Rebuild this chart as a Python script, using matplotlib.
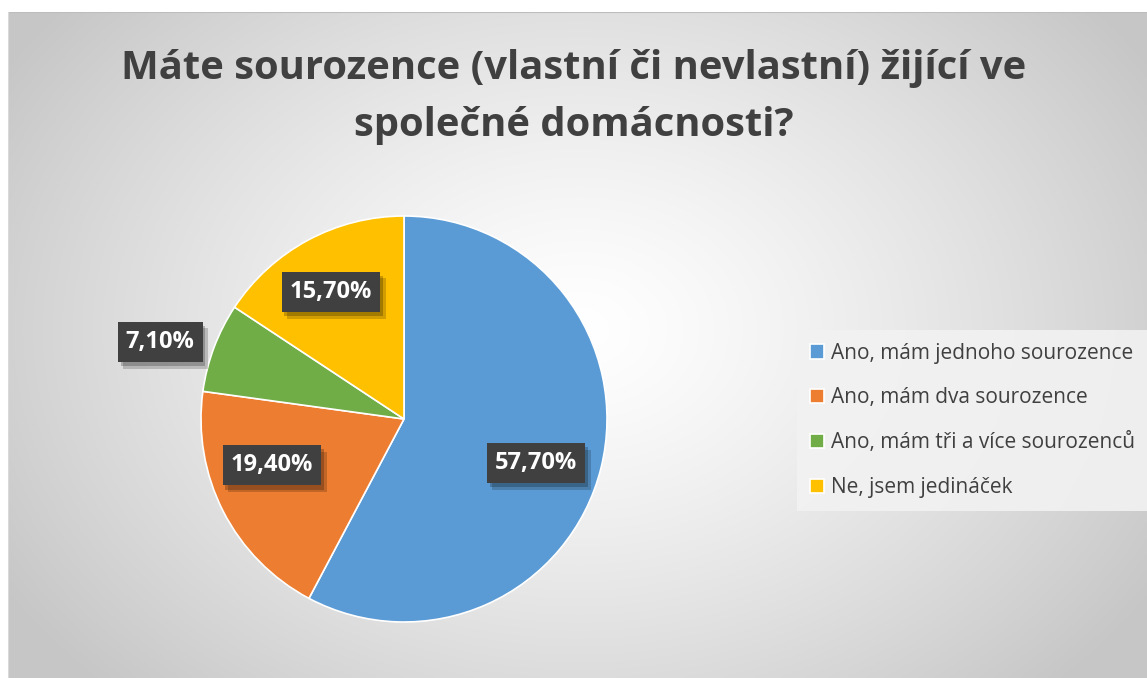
import numpy as np
import matplotlib
matplotlib.use("Agg")
import matplotlib.pyplot as plt
import matplotlib.patheffects as pe

title = "Máte sourozence (vlastní či nevlastní) žijící ve\nspolečné domácnosti?"
categories = ["Ano, mám jednoho sourozence", "Ano, mám dva sourozence",
              "Ano, mám tři a více sourozenců", "Ne, jsem jedináček"]
values = [57.7, 19.4, 7.1, 15.7]
labels = ["57,70%", "19,40%", "7,10%", "15,70%"]
colors = ["#5B9BD5", "#ED7D31", "#70AD47", "#FFC000"]

W, H = 1147, 678
fig = plt.figure(figsize=(W / 100, H / 100), dpi=100)
fig.patch.set_facecolor("white")

# background radial gradient chart area
bg = fig.add_axes([8 / W, 0, 1 - 8 / W, (H - 12) / H])
bg.set_axis_off()
yy, xx = np.mgrid[0:200, 0:340]
cx, cy = 170 * 1.0, 95
d = np.sqrt(((xx - cx) / 200) ** 2 + ((yy - cy) / 150) ** 2)
d = np.clip(d, 0, 1)
g = 1.0 - 0.22 * d ** 1.3
img = np.dstack([g, g, g])
bg.imshow(img, aspect="auto", extent=[0, 1, 0, 1], interpolation="bilinear")
bg.set_xlim(0, 1); bg.set_ylim(0, 1)
bg.plot([0, 1], [1, 1], color="#bdbdbd", lw=1.5)
bg.plot([0, 0], [0, 1], color="#d9d9d9", lw=1.5)

fig.text(0.5, 1 - 97 / H, title, ha="center", va="center", fontsize=28.8,
         fontweight="bold", color="#404040", family="Open Sans", linespacing=1.6)

# pie
cxp, cyp, r = 404, H - 419, 203
ax = fig.add_axes([(cxp - r) / W, (cyp - r) / H, 2 * r / W, 2 * r / H])
ax.set_aspect("equal")
wedges, _ = ax.pie(values, colors=colors, startangle=90, counterclock=False,
                   wedgeprops=dict(linewidth=1.2, edgecolor="white"))
ax.set_xlim(-1, 1); ax.set_ylim(-1, 1)

dists = [0.685, 0.69, 1.26, 0.724]
ang_shift = [-4.5, -7.8, 3.0, 1.6]
for w, lab, dist, sh in zip(wedges, labels, dists, ang_shift):
    ang = np.deg2rad((w.theta1 + w.theta2) / 2 + sh)
    x, y = dist * np.cos(ang), dist * np.sin(ang)
    t = ax.text(x, y, lab, ha="center", va="center", fontsize=17, fontweight="bold",
                color="white", family="Open Sans", zorder=5,
                bbox=dict(boxstyle="square,pad=0.34", fc="#404040", ec="none", lw=0))
    t.get_bbox_patch().set_path_effects([
        pe.SimplePatchShadow(offset=(4, -5), shadow_rgbFace="black", alpha=0.18),
        pe.SimplePatchShadow(offset=(2, -3), shadow_rgbFace="black", alpha=0.22),
        pe.Normal()])

# legend
leg = fig.legend(wedges, categories, loc="upper left",
                 bbox_to_anchor=(797 / W, 1 - 330 / H), frameon=True,
                 labelcolor="#404040", handlelength=0.7,
                 handleheight=0.7, handletextpad=0.35, labelspacing=1.15,
                 borderpad=0.6, borderaxespad=0, fancybox=False,
                 prop={"family": "Open Sans", "size": 15})
leg.get_frame().set_facecolor("#f2f2f2")
leg.get_frame().set_edgecolor("none")
leg.get_frame().set_alpha(0.9)

fig.savefig("out.png", dpi=100, facecolor="white")
